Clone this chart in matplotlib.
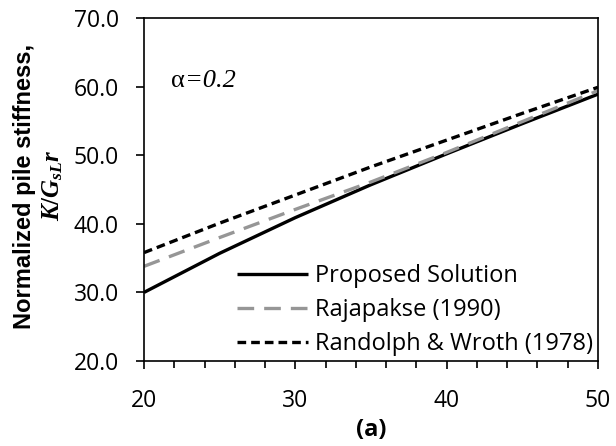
import matplotlib
matplotlib.use("Agg")
import matplotlib.pyplot as plt
from matplotlib.ticker import MultipleLocator

x = [20, 25, 30, 35, 40, 45, 50]
proposed = [30.0, 35.7, 40.9, 45.7, 50.2, 54.6, 58.9]
rajapakse = [33.8, 38.0, 42.1, 46.1, 50.4, 54.9, 59.4]
randolph = [35.8, 40.1, 44.2, 48.3, 52.2, 56.1, 59.9]
labels = ["Proposed Solution", "Rajapakse (1990)", "Randolph & Wroth (1978)"]
yticks = [20, 30, 40, 50, 60, 70]
xticks = [20, 30, 40, 50]

plt.rcParams['mathtext.fontset'] = 'custom'
plt.rcParams['mathtext.it'] = 'Liberation Serif:italic:bold'
plt.rcParams['mathtext.rm'] = 'Liberation Serif:bold'

fig = plt.figure(figsize=(6.16, 4.46), dpi=100)
ax = fig.add_axes([144/616, 1-361/446, (598-144)/616, (361-18)/446])

lw = 2.4
ax.plot(x, proposed, color='black', lw=lw, label=labels[0], solid_capstyle='butt')
ax.plot(x, rajapakse, color='#969696', lw=lw, dashes=(5, 3.0), label=labels[1])
ax.plot(x, randolph, color='black', lw=lw, dashes=(2.6, 1.5), label=labels[2])

ax.set_xlim(20, 50)
ax.set_ylim(20, 70)
ax.set_xticks(xticks)
ax.set_yticks(yticks)
ax.set_yticklabels([f"{v:.1f}" for v in yticks])
ax.xaxis.set_minor_locator(MultipleLocator(2))
ax.tick_params(axis='both', which='major', direction='out', length=6, width=1.2,
               labelsize=16.5)
ax.tick_params(axis='x', which='major', pad=14)
ax.tick_params(axis='y', which='major', pad=12)
ax.tick_params(axis='x', which='minor', direction='out', length=5, width=1.2)
for lab in ax.get_xticklabels() + ax.get_yticklabels():
    lab.set_fontfamily('Open Sans')
for s in ax.spines.values():
    s.set_linewidth(1.2)

leg = ax.legend(loc='lower right', frameon=False, prop={'family': 'Open Sans', 'size': 17},
                handlelength=3.0, handletextpad=0.3, labelspacing=0.42,
                borderaxespad=0.0, borderpad=0.2)

t1 = ax.text(0.06, 0.80, 'α', transform=ax.transAxes, family='Liberation Serif',
             fontsize=19, va='baseline')
ax.annotate('=0.2', xy=(1, 0), xycoords=t1, va='bottom', family='Liberation Serif',
            style='italic', fontsize=19)

fig.text(25/616, 1-186/446, 'Normalized pile stiffness,', rotation=90, ha='center', va='center',
         family='Liberation Sans', weight='bold', fontsize=17)
fig.text(53/616, 1-185/446, r'$K/G_{sL}r$', rotation=90, ha='center', va='center', fontsize=18)

fig.text((144+598)/2/616, 1-430/446, '(a)', ha='center', va='center',
         family='Open Sans', weight='bold', fontsize=17)

fig.savefig('out.png', dpi=100)
